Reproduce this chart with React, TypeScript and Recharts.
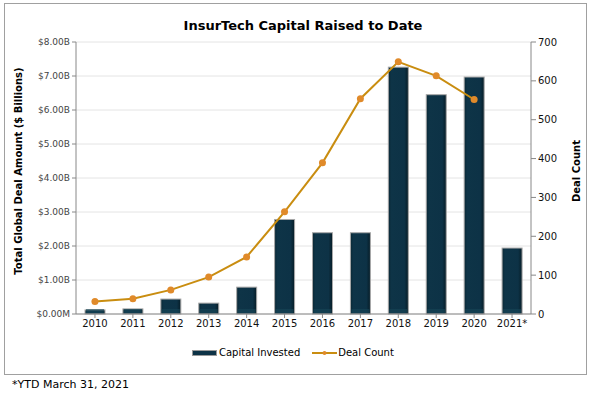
import React from 'react';
import { ComposedChart, Bar, Line, XAxis, YAxis, CartesianGrid, Legend } from 'recharts';

const years = ['2010', '2011', '2012', '2013', '2014', '2015', '2016', '2017', '2018', '2019', '2020', '2021*'];
const capitalInvested = [0.12, 0.15, 0.44, 0.32, 0.79, 2.78, 2.39, 2.39, 7.26, 6.45, 6.97, 1.94];
const dealCount: (number | null)[] = [32, 39, 62, 95, 147, 263, 389, 554, 649, 613, 552, null];
const leftTicks = [0, 1, 2, 3, 4, 5, 6, 7, 8];
const rightTicks = [0, 100, 200, 300, 400, 500, 600, 700];

const data = years.map((y, i) => ({ year: y, capital: capitalInvested[i], deals: dealCount[i] }));

const FONT = 'Verdana, "DejaVu Sans", sans-serif';

const BarShape = (props: any) => {
  const { x, y, width, height } = props;
  if (!height || height <= 0) return null;
  return (
    <g>
      <rect x={x} y={y} width={width} height={height} fill="url(#barGrad)" stroke="#a8a8a8" strokeWidth={1} />
      <rect x={x + 1} y={y + height - 5} width={width - 2} height={4} fill="#174657" opacity={0.6} />
    </g>
  );
};

const fmtLeft = (v: number) => (v === 0 ? '$0.00M' : `$${v.toFixed(2)}B`);

const LegendContent = () => (
  <div style={{ display: 'flex', justifyContent: 'flex-start', alignItems: 'center', fontFamily: FONT, fontSize: 10, color: '#000', paddingLeft: 192 }}>
    <div style={{ display: 'flex', alignItems: 'center' }}>
      <svg width={25} height={8} style={{ marginRight: 2 }}>
        <rect x={0.5} y={1.5} width={24} height={5} fill="#0d3246" stroke="#999" />
      </svg>
      <span>Capital Invested</span>
    </div>
    <div style={{ display: 'flex', alignItems: 'center', marginLeft: 12 }}>
      <svg width={25} height={8} style={{ marginRight: 1 }}>
        <line x1={0} y1={4} x2={25} y2={4} stroke="#c98d10" strokeWidth={2} />
        <circle cx={12.5} cy={4} r={2} fill="#e08a2a" />
      </svg>
      <span>Deal Count</span>
    </div>
  </div>
);

export default function App() {
  return (
    <div style={{ position: 'absolute', left: 0, top: 0, width: 594, height: 396, background: '#fff', fontFamily: FONT }}>
      <div style={{ position: 'absolute', left: 4, top: 3, width: 581, height: 370, border: '1px solid #a0a0a0' }} />
      <div style={{ position: 'absolute', left: 0, top: 18, width: 594, textAlign: 'center', fontWeight: 'bold', fontSize: 13, paddingLeft: 12, boxSizing: 'border-box' }}>
        InsurTech Capital Raised to Date
      </div>
      <div style={{ position: 'absolute', left: 0, top: 0 }}>
        <ComposedChart width={594} height={396} data={data} margin={{ top: 42, right: 0, bottom: 60, left: 0 }}>
          <defs>
            <linearGradient id="barGrad" x1="0" y1="0" x2="1" y2="0">
              <stop offset="0%" stopColor="#0a2835" />
              <stop offset="15%" stopColor="#0e3447" />
              <stop offset="80%" stopColor="#0d3246" />
              <stop offset="100%" stopColor="#061c26" />
            </linearGradient>
          </defs>
          <CartesianGrid vertical={false} stroke="#e4e4e4" yAxisId="left" />
          <XAxis
            dataKey="year"
            height={22}
            tick={{ fontSize: 10, fill: '#111', fontFamily: FONT }}
            tickLine={{ stroke: '#888' }}
            axisLine={{ stroke: '#888' }}
            tickSize={4}
            interval={0}
          />
          <YAxis
            yAxisId="left"
            orientation="left"
            width={76}
            domain={[0, 8]}
            ticks={leftTicks}
            tickFormatter={fmtLeft}
            tick={{ fontSize: 9, fill: '#444', fontFamily: FONT }}
            tickLine={{ stroke: '#888' }}
            axisLine={{ stroke: '#888' }}
            tickSize={4}
            label={{ value: 'Total Global Deal Amount ($ Billions)', angle: -90, position: 'insideLeft', offset: 18, dy: -7, style: { fontSize: 10, fontWeight: 'bold', fill: '#000', fontFamily: FONT, textAnchor: 'middle' } }}
          />
          <YAxis
            yAxisId="right"
            orientation="right"
            width={63}
            domain={[0, 700]}
            ticks={rightTicks}
            tick={{ fontSize: 10, fill: '#111', fontFamily: FONT }}
            tickLine={{ stroke: '#888' }}
            axisLine={{ stroke: '#888' }}
            tickSize={5}
            label={{ value: 'Deal Count', angle: -90, position: 'insideRight', offset: 18, dy: -7, style: { fontSize: 10, fontWeight: 'bold', fill: '#000', fontFamily: FONT, textAnchor: 'middle' } }}
          />
          <Legend
            layout="horizontal"
            verticalAlign="middle"
            align="center"
            content={<LegendContent />}
            wrapperStyle={{ position: 'absolute', top: 347, left: 0, width: 594 }}
          />
          <Bar yAxisId="left" dataKey="capital" name="Capital Invested" barSize={20} shape={<BarShape />} isAnimationActive={false} />
          <Line
            yAxisId="right"
            dataKey="deals"
            name="Deal Count"
            type="linear"
            stroke="#c98d10"
            strokeWidth={2}
            dot={{ r: 3.5, fill: '#e08a2a', stroke: '#e08a2a', strokeWidth: 0 }}
            connectNulls={false}
            isAnimationActive={false}
          />
        </ComposedChart>
      </div>
      <div style={{ position: 'absolute', left: 12, top: 378, fontSize: 11, fontFamily: FONT, color: '#000' }}>*YTD March 31, 2021</div>
    </div>
  );
}
